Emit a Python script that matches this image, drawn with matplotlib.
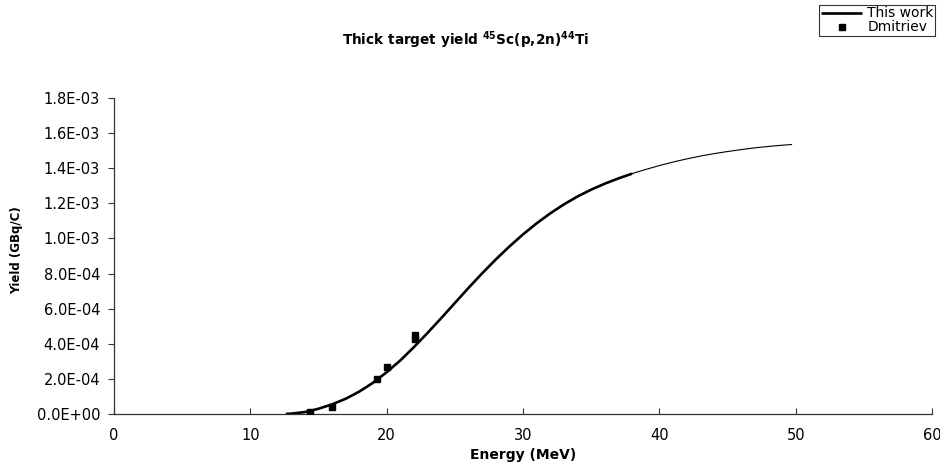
import matplotlib
matplotlib.use("Agg")
import matplotlib.pyplot as plt

# "This work" calculated thick-target yield (thick part, up to ~38 MeV)
work_E = [12.6, 13.0, 14.0, 14.4, 15.0, 16.0, 17.0, 18.0, 19.0, 20.0, 21.0,
          22.0, 23.0, 24.0, 25.0, 26.0, 27.0, 28.0, 29.0, 30.0, 31.0, 32.0,
          33.0, 34.0, 35.0, 36.0, 37.0, 38.0]
work_Y = [0.0, 2e-6, 1.1e-5, 1.8e-5, 3.0e-5, 5.5e-5, 8.7e-5, 1.28e-4, 1.78e-4,
          2.38e-4, 3.05e-4, 3.81e-4, 4.62e-4, 5.46e-4, 6.32e-4, 7.18e-4,
          8.01e-4, 8.80e-4, 9.54e-4, 1.023e-3, 1.086e-3, 1.143e-3, 1.194e-3,
          1.239e-3, 1.278e-3, 1.312e-3, 1.342e-3, 1.369e-3]

# thin continuation of the curve to 50 MeV
ext_E = [37.9, 39.0, 40.0, 41.0, 42.0, 43.0, 44.0, 45.0, 46.0, 47.0, 48.0,
         49.0, 49.7]
ext_Y = [1.367e-3, 1.393e-3, 1.415e-3, 1.435e-3, 1.453e-3, 1.469e-3,
         1.483e-3, 1.495e-3, 1.506e-3, 1.516e-3, 1.524e-3, 1.531e-3, 1.535e-3]

# Dmitriev data points
dm_E = [14.4, 16.0, 19.3, 20.0, 22.1, 22.1]
dm_Y = [1.4e-5, 4.2e-5, 1.98e-4, 2.66e-4, 4.3e-4, 4.5e-4]

x_ticks = [0, 10, 20, 30, 40, 50, 60]
y_ticks = [0, 2e-4, 4e-4, 6e-4, 8e-4, 1.0e-3, 1.2e-3, 1.4e-3, 1.6e-3, 1.8e-3]
y_tick_labels = ["0.0E+00", "2.0E-04", "4.0E-04", "6.0E-04", "8.0E-04",
                 "1.0E-03", "1.2E-03", "1.4E-03", "1.6E-03", "1.8E-03"]

plt.rcParams['font.family'] = ['DejaVu Sans']

fig = plt.figure(figsize=(9.4, 4.65), dpi=100)
ax = fig.add_axes([114/940, 1-414/465, (932-114)/940, (414-98)/465])

ax.plot(ext_E, ext_Y, color='black', lw=0.8, zorder=2, solid_joinstyle='round')
ln, = ax.plot(work_E, work_Y, color='black', lw=1.9, zorder=3,
              solid_capstyle='butt', solid_joinstyle='round', label='This work')
sc, = ax.plot(dm_E, dm_Y, ls='none', marker='s', ms=4.3, color='black',
              zorder=4, label='Dmitriev')

ax.set_xlim(0, 60)
ax.set_ylim(0, 1.8e-3)
ax.set_xticks(x_ticks)
ax.set_xticklabels([str(v) for v in x_ticks])
ax.set_yticks(y_ticks)
ax.set_yticklabels(y_tick_labels)

for s in ['top', 'right']:
    ax.spines[s].set_visible(False)
for s in ['left', 'bottom']:
    ax.spines[s].set_color('#333333')
    ax.spines[s].set_linewidth(0.9)

ax.tick_params(axis='x', direction='in', length=4, width=0.8, pad=10,
               labelsize=10.5, colors='#333333', labelcolor='black')
ax.tick_params(axis='y', direction='out', length=4, width=0.8, pad=6,
               labelsize=10.5, colors='#333333', labelcolor='black')

ax.set_xlabel('Energy (MeV)', fontsize=10, fontweight='bold', labelpad=4)
fig.text(17/940, 1-250/465, 'Yield (GBq/C)', rotation=90, fontsize=8.5,
         fontweight='bold', ha='center', va='center')

fig.text(466/940, 1-40/465,
         r'Thick target yield $^{\mathbf{45}}$Sc(p,2n)$^{\mathbf{44}}$Ti',
         fontsize=9.8, fontweight='bold', ha='center', va='center')

leg = fig.legend(handles=[ln, sc], loc='upper right',
                 bbox_to_anchor=(935/940, 1-5/465), fontsize=10,
                 frameon=True, fancybox=False, edgecolor='black',
                 handlelength=3.0, handletextpad=0.35, labelspacing=0.0,
                 borderpad=0.1, borderaxespad=0)
leg.get_frame().set_linewidth(0.8)

fig.savefig('out.png', dpi=100)
